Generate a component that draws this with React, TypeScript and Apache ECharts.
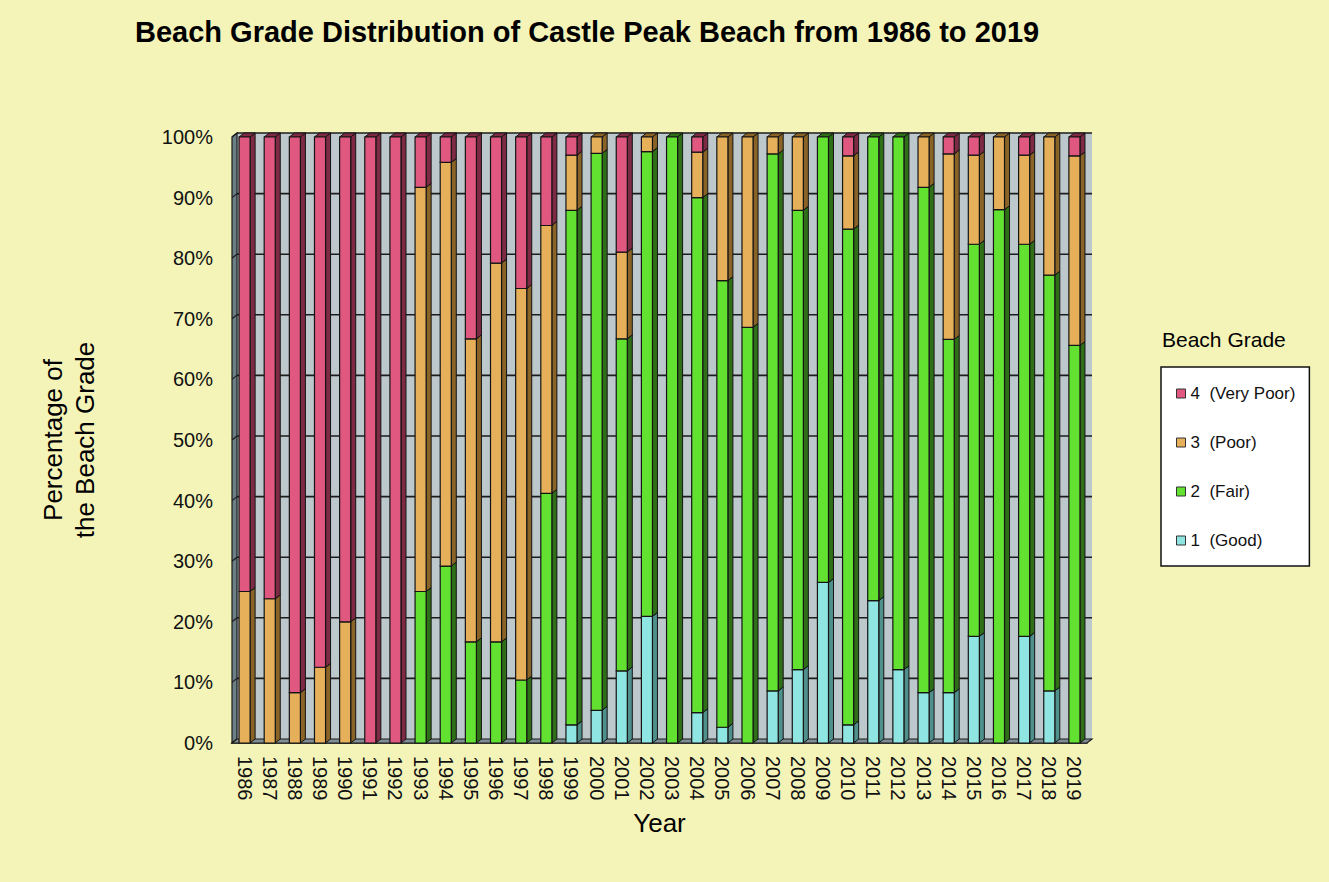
import React, { useEffect, useRef } from "react";
import * as echarts from "echarts";

const years = [
  "1986", "1987", "1988", "1989", "1990", "1991", "1992", "1993", "1994", "1995",
  "1996", "1997", "1998", "1999", "2000", "2001", "2002", "2003", "2004", "2005",
  "2006", "2007", "2008", "2009", "2010", "2011", "2012", "2013", "2014", "2015",
  "2016", "2017", "2018", "2019",
];

// Share of each beach grade per year (%)
const good = [
  0, 0, 0, 0, 0, 0, 0, 0, 0, 0,
  0, 0, 0, 3.0, 5.4, 11.9, 20.9, 0, 5.0, 2.6,
  0, 8.6, 12.1, 26.5, 3.0, 23.5, 12.1, 8.3, 8.3, 17.6,
  0, 17.6, 8.6, 0,
];
const fair = [
  0, 0, 0, 0, 0, 0, 0, 25.0, 29.2, 16.7,
  16.7, 10.4, 41.2, 84.9, 91.9, 54.8, 76.7, 100, 85.0, 73.7,
  68.6, 88.6, 75.8, 73.5, 81.8, 76.5, 87.9, 83.4, 58.3, 64.7,
  88.0, 64.7, 68.6, 65.6,
];
const poor = [
  25.0, 23.8, 8.3, 12.5, 20.0, 0, 0, 66.7, 66.6, 50.0,
  62.5, 64.6, 44.2, 9.1, 2.7, 14.3, 2.4, 0, 7.5, 23.7,
  31.4, 2.8, 12.1, 0, 12.1, 0, 0, 8.3, 30.6, 14.7,
  12.0, 14.7, 22.8, 31.3,
];
const veryPoor = [
  75.0, 76.2, 91.7, 87.5, 80.0, 100, 100, 8.3, 4.2, 33.3,
  20.8, 25.0, 14.6, 3.0, 0, 19.0, 0, 0, 2.5, 0,
  0, 0, 0, 0, 3.1, 0, 0, 0, 2.8, 3.0,
  0, 3.0, 0, 3.1,
];

const gradeNames = ["1  (Good)", "2  (Fair)", "3  (Poor)", "4  (Very Poor)"];
const gradeValues = [good, fair, poor, veryPoor];
const gradeColors = ["#8fe5e1", "#63e131", "#e6b05a", "#e05780"];
const gradeSides = ["#4f8f8c", "#2f6f17", "#8a6326", "#7e2a44"];
const yTicks = [0, 10, 20, 30, 40, 50, 60, 70, 80, 90, 100];

const FONT = "'Liberation Sans', Arial, Helvetica, sans-serif";
const DX = 5;
const DY = 4;

function buildStack(k: number) {
  return years.map((_, i) => {
    let base = 0;
    for (let j = 0; j < k; j++) base += gradeValues[j][i];
    return [i, base, base + gradeValues[k][i]];
  });
}

export default function App() {
  const ref = useRef<HTMLDivElement>(null);

  useEffect(() => {
    if (!ref.current) return;
    const chart = echarts.init(ref.current, null, { renderer: "svg" });

    // Back wall, gridlines, side wall and floor of the 3-D plot box
    const wallSeries: any = {
      type: "custom",
      name: "walls",
      z: 1,
      silent: true,
      clip: false,
      data: [[0, 0]],
      renderItem: (params: any, api: any) => {
        const cs = params.coordSys;
        const left = cs.x;
        const right = cs.x + cs.width;
        const top = cs.y;
        const bottom = cs.y + cs.height;
        const children: any[] = [];
        children.push({
          type: "rect",
          shape: { x: left + DX, y: top - DY, width: cs.width, height: cs.height },
          style: { fill: "#bcc8cc" },
        });
        yTicks.forEach((t) => {
          const y = api.coord([0, t])[1] - DY;
          if (t > 0) {
            children.push({
              type: "line",
              shape: { x1: left + DX, y1: y, x2: right + DX, y2: y },
              style: { stroke: "#1c1c1c", lineWidth: 1.6 },
            });
          }
        });
        children.push({
          type: "polygon",
          shape: {
            points: [
              [left, top],
              [left + DX, top - DY],
              [left + DX, bottom - DY],
              [left, bottom],
            ],
          },
          style: { fill: "#6c7e86", stroke: "#1c1c1c", lineWidth: 1.2 },
        });
        yTicks.forEach((t) => {
          const y = api.coord([0, t])[1];
          children.push({
            type: "line",
            shape: { x1: left, y1: y, x2: left + DX, y2: y - DY },
            style: { stroke: "#1c1c1c", lineWidth: 1.2 },
          });
        });
        children.push({
          type: "polygon",
          shape: {
            points: [
              [left, bottom],
              [left + DX, bottom - DY],
              [right + DX, bottom - DY],
              [right, bottom],
            ],
          },
          style: { fill: "#7e8e94", stroke: "#1c1c1c", lineWidth: 1.2 },
        });
        return { type: "group", children };
      },
    };

    const barSeries = gradeNames.map((name, k) => ({
      type: "custom",
      name,
      z: 2,
      clip: false,
      itemStyle: { color: gradeColors[k], borderColor: "#222", borderWidth: 1 },
      data: buildStack(k),
      renderItem: (params: any, api: any) => {
        const i = api.value(0);
        const b = api.value(1);
        const t = api.value(2);
        if (t - b <= 0) return { type: "group", children: [] };
        const pb = api.coord([i, b]);
        const pt = api.coord([i, t]);
        const w = api.size([1, 0])[0] * 0.44;
        const x0 = pb[0] - w / 2;
        const x1 = pb[0] + w / 2;
        const yb = pb[1];
        const yt = pt[1];
        return {
          type: "group",
          children: [
            {
              type: "polygon",
              shape: { points: [[x1, yt], [x1 + DX, yt - DY], [x1 + DX, yb - DY], [x1, yb]] },
              style: { fill: gradeSides[k], stroke: "#141414", lineWidth: 1 },
            },
            {
              type: "polygon",
              shape: { points: [[x0, yt], [x0 + DX, yt - DY], [x1 + DX, yt - DY], [x1, yt]] },
              style: { fill: gradeSides[k], stroke: "#141414", lineWidth: 1 },
            },
            {
              type: "rect",
              shape: { x: x0, y: yt, width: w, height: yb - yt },
              style: { fill: gradeColors[k], stroke: "#141414", lineWidth: 1.2 },
            },
          ],
        };
      },
    }));

    chart.setOption({
      animation: false,
      backgroundColor: "#f4f4b8",
      textStyle: { fontFamily: FONT },
      title: [
        {
          text: "Beach Grade Distribution of Castle Peak Beach from 1986 to 2019",
          left: 135,
          top: 17,
          padding: 0,
          textStyle: { fontFamily: FONT, fontSize: 29, fontWeight: "bold", color: "#000" },
        },
        {
          text: "Beach Grade",
          left: 1162,
          top: 329,
          padding: 0,
          textStyle: { fontFamily: FONT, fontSize: 21, fontWeight: "normal", color: "#000" },
        },
      ],
      legend: {
        orient: "vertical",
        left: 1161,
        top: 367,
        data: ["4  (Very Poor)", "3  (Poor)", "2  (Fair)", "1  (Good)"],
        icon: "rect",
        itemWidth: 9,
        itemHeight: 9,
        itemGap: 32,
        padding: [18, 14, 17, 15],
        backgroundColor: "#ffffff",
        borderColor: "#111",
        borderWidth: 1.5,
        borderRadius: 0,
        selectedMode: false,
        textStyle: { fontFamily: FONT, fontSize: 17, color: "#111" },
        itemStyle: { borderColor: "#333", borderWidth: 1 },
      },
      grid: { left: 232, right: 242, top: 137, bottom: 139, containLabel: false },
      xAxis: {
        type: "category",
        data: years,
        name: "Year",
        nameLocation: "middle",
        nameGap: 67,
        nameTextStyle: { fontFamily: FONT, fontSize: 26, color: "#000" },
        axisLine: { show: true, lineStyle: { color: "#111", width: 1.5 } },
        axisTick: { show: false },
        axisLabel: {
          rotate: -90,
          interval: 0,
          margin: 13,
          fontSize: 20,
          fontFamily: FONT,
          color: "#111",
        },
        splitLine: { show: false },
      },
      yAxis: {
        type: "value",
        min: 0,
        max: 100,
        interval: 10,
        name: "Percentage of\nthe Beach Grade",
        nameLocation: "middle",
        nameRotate: 90,
        nameGap: 131,
        nameTextStyle: { fontFamily: FONT, fontSize: 26, color: "#000", lineHeight: 32 },
        axisLine: { show: false },
        axisTick: { show: false },
        splitLine: { show: false },
        axisLabel: {
          formatter: "{value}%",
          margin: 19,
          fontSize: 20,
          fontFamily: FONT,
          color: "#111",
        },
      },
      series: [wallSeries, ...barSeries],
    });

    return () => chart.dispose();
  }, []);

  return (
    <div
      ref={ref}
      style={{ position: "absolute", left: 0, top: 0, width: 1329, height: 882 }}
    />
  );
}
